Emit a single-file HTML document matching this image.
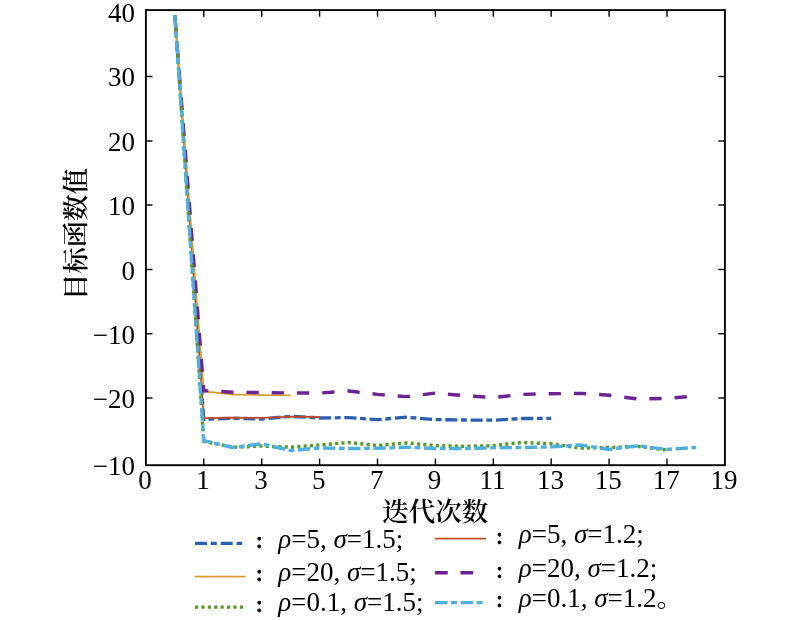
<!DOCTYPE html>
<html><head><meta charset="utf-8"><style>
html,body{margin:0;padding:0;background:#fff;}
body{width:800px;height:620px;overflow:hidden;}
svg{display:block;will-change:transform;}
text{font-family:"Liberation Serif","Noto Serif CJK SC",serif;font-size:27px;fill:#000;}
.co{font-family:"DejaVu Serif",serif;font-size:23.5px;stroke:#000;stroke-width:0.55px;}
.cj{font-family:"Noto Serif CJK SC","Liberation Serif",serif;font-weight:600;}
</style></head><body>
<svg width="800" height="620" viewBox="0 0 800 620">
<rect width="800" height="620" fill="#fff"/>
<g transform="scale(1,1.04)">
<polyline points="174.85,14.423 203.80,403.173 205.40,403.115" stroke-width="3.2" fill="none" stroke="#2a60ae" stroke-linejoin="miter" stroke-dasharray="12.1 3.6 5.9 3.7" stroke-dashoffset="0.000"/>
<polyline points="203.80,403.173 232.75,402.115 261.70,402.885 290.65,400.288 319.60,401.923 348.55,401.538 377.50,403.558 406.45,401.154 435.40,403.462 464.35,403.846 493.30,404.038 522.25,402.404 551.20,402.308" stroke-width="3.2" fill="none" stroke="#2a60ae" stroke-linejoin="miter" stroke-dasharray="12.1 3.6 5.9 3.7" stroke-dashoffset="11.041"/>
<polyline points="174.85,14.423 203.80,402.115 232.75,401.538 261.70,401.731 290.65,400.673 319.60,400.962" stroke-width="1.7" fill="none" stroke="#bd4a2b" stroke-linejoin="miter"/>
<polyline points="174.85,14.423 203.80,376.346 232.75,379.327 261.70,379.904 290.65,380.192" stroke-width="1.7" fill="none" stroke="#d89e36" stroke-linejoin="miter"/>
<polyline points="174.85,14.423 203.80,375.577 205.45,375.664" stroke-width="3.3" fill="none" stroke="#6c2494" stroke-linejoin="miter" stroke-dasharray="12.3 12.95" stroke-dashoffset="21.650"/>
<polyline points="203.80,375.577 232.75,377.115 261.70,377.500 290.65,377.885 319.60,377.981 348.55,375.962 377.50,379.231 406.45,381.346 435.40,377.981 464.35,380.385 493.30,382.212 522.25,379.231 551.20,378.558 580.15,378.269 609.10,380.000 638.05,383.654 667.00,383.077 695.95,380.769" stroke-width="3.3" fill="none" stroke="#6c2494" stroke-linejoin="miter" stroke-dasharray="12.3 12.95" stroke-dashoffset="7.775"/>
<polyline points="174.85,14.423 203.80,424.327 205.42,424.649" stroke-width="3.3" fill="none" stroke="#559b25" stroke-linejoin="miter" stroke-dasharray="3.12 3.2" stroke-dashoffset="0.000"/>
<polyline points="203.80,424.327 232.75,430.096 261.70,428.846 290.65,430.000 319.60,427.885 348.55,425.481 377.50,428.365 406.45,425.865 435.40,428.462 464.35,429.231 493.30,428.462 522.25,425.481 551.20,426.635 580.15,430.865 609.10,430.288 638.05,429.231 667.00,432.692" stroke-width="3.3" fill="none" stroke="#559b25" stroke-linejoin="miter" stroke-dasharray="3.12 3.2" stroke-dashoffset="0.646"/>
<polyline points="174.85,14.423 203.80,423.654 205.41,424.022" stroke-width="3.3" fill="none" stroke="#4fb0e0" stroke-linejoin="miter" stroke-dasharray="12.3 3.6 5.75 3.6" stroke-dashoffset="0.000"/>
<polyline points="203.80,423.654 232.75,430.288 261.70,426.731 290.65,433.269 319.60,430.673 348.55,431.250 377.50,431.058 406.45,430.000 435.40,431.250 464.35,431.250 493.30,430.577 522.25,430.288 551.20,429.712 580.15,427.885 609.10,432.115 638.05,428.654 667.00,432.115 695.95,430.288" stroke-width="3.3" fill="none" stroke="#4fb0e0" stroke-linejoin="miter" stroke-dasharray="12.3 3.6 5.75 3.6" stroke-dashoffset="5.281"/>
</g>
<g stroke="#000" stroke-width="1.4" fill="none">
<line x1="203.80" y1="10.1" x2="203.80" y2="16.70"/>
<line x1="203.80" y1="465.2" x2="203.80" y2="458.60"/>
<line x1="261.70" y1="10.1" x2="261.70" y2="16.70"/>
<line x1="261.70" y1="465.2" x2="261.70" y2="458.60"/>
<line x1="319.60" y1="10.1" x2="319.60" y2="16.70"/>
<line x1="319.60" y1="465.2" x2="319.60" y2="458.60"/>
<line x1="377.50" y1="10.1" x2="377.50" y2="16.70"/>
<line x1="377.50" y1="465.2" x2="377.50" y2="458.60"/>
<line x1="435.40" y1="10.1" x2="435.40" y2="16.70"/>
<line x1="435.40" y1="465.2" x2="435.40" y2="458.60"/>
<line x1="493.30" y1="10.1" x2="493.30" y2="16.70"/>
<line x1="493.30" y1="465.2" x2="493.30" y2="458.60"/>
<line x1="551.20" y1="10.1" x2="551.20" y2="16.70"/>
<line x1="551.20" y1="465.2" x2="551.20" y2="458.60"/>
<line x1="609.10" y1="10.1" x2="609.10" y2="16.70"/>
<line x1="609.10" y1="465.2" x2="609.10" y2="458.60"/>
<line x1="667.00" y1="10.1" x2="667.00" y2="16.70"/>
<line x1="667.00" y1="465.2" x2="667.00" y2="458.60"/>
<line x1="145.9" y1="76.5" x2="152.50" y2="76.5"/>
<line x1="724.9" y1="76.5" x2="718.30" y2="76.5"/>
<line x1="145.9" y1="141.0" x2="152.50" y2="141.0"/>
<line x1="724.9" y1="141.0" x2="718.30" y2="141.0"/>
<line x1="145.9" y1="205.0" x2="152.50" y2="205.0"/>
<line x1="724.9" y1="205.0" x2="718.30" y2="205.0"/>
<line x1="145.9" y1="269.5" x2="152.50" y2="269.5"/>
<line x1="724.9" y1="269.5" x2="718.30" y2="269.5"/>
<line x1="145.9" y1="333.7" x2="152.50" y2="333.7"/>
<line x1="724.9" y1="333.7" x2="718.30" y2="333.7"/>
<line x1="145.9" y1="398.0" x2="152.50" y2="398.0"/>
<line x1="724.9" y1="398.0" x2="718.30" y2="398.0"/>
</g>
<rect x="145.9" y="10.1" width="579.00" height="455.10" fill="none" stroke="#000" stroke-width="1.9"/>
<g>
<text x="145.10" y="489" text-anchor="middle">0</text>
<text x="203.00" y="489" text-anchor="middle">1</text>
<text x="260.90" y="489" text-anchor="middle">3</text>
<text x="318.80" y="489" text-anchor="middle">5</text>
<text x="376.70" y="489" text-anchor="middle">7</text>
<text x="434.60" y="489" text-anchor="middle">9</text>
<text x="492.50" y="489" text-anchor="middle">11</text>
<text x="550.40" y="489" text-anchor="middle">13</text>
<text x="608.30" y="489" text-anchor="middle">15</text>
<text x="666.20" y="489" text-anchor="middle">17</text>
<text x="724.10" y="489" text-anchor="middle">19</text>
<text x="135" y="22.10" text-anchor="end">40</text>
<text x="135" y="86.10" text-anchor="end">30</text>
<text x="135" y="151.00" text-anchor="end">20</text>
<text x="135" y="214.60" text-anchor="end">10</text>
<text x="135" y="279.50" text-anchor="end">0</text>
<text x="135" y="343.90" text-anchor="end">−10</text>
<text x="135" y="407.90" text-anchor="end">−20</text>
<text x="135" y="474.70" text-anchor="end">−10</text>
</g>
<text class="cj" transform="translate(85.2,234.1) rotate(-90)" text-anchor="middle" style="font-size:26.4px">目标函数值</text>
<text class="cj" x="435.3" y="520.7" text-anchor="middle" style="font-size:26.5px">迭代次数</text>
<g>
<line x1="195.0" y1="543.3" x2="242.2" y2="543.3" stroke="#2a60ae" stroke-width="3.2" stroke-dasharray="12 3.8 6 3.9"/>
<text class="co" x="259.2" y="548.3" text-anchor="middle">:</text>
<text x="278.3" y="547.7"><tspan font-style="italic">ρ</tspan>=5, <tspan font-style="italic">σ</tspan>=1.5;</text>
<line x1="194.6" y1="576.7" x2="245.6" y2="576.7" stroke="#d89e36" stroke-width="1.7"/>
<text class="co" x="259.2" y="581.0" text-anchor="middle">:</text>
<text x="278.3" y="581.0"><tspan font-style="italic">ρ</tspan>=20, <tspan font-style="italic">σ</tspan>=1.5;</text>
<line x1="195.0" y1="607.1" x2="243.0" y2="607.1" stroke="#559b25" stroke-width="3.4" stroke-dasharray="3.2 3.2"/>
<text class="co" x="259.2" y="611.9" text-anchor="middle">:</text>
<text x="278.3" y="611.4"><tspan font-style="italic">ρ</tspan>=0.1, <tspan font-style="italic">σ</tspan>=1.5;</text>
<line x1="435.0" y1="538.7" x2="486.0" y2="538.7" stroke="#bd4a2b" stroke-width="1.7"/>
<text class="co" x="499.5" y="543.9" text-anchor="middle">:</text>
<text x="518.7" y="543.2"><tspan font-style="italic">ρ</tspan>=5, <tspan font-style="italic">σ</tspan>=1.2;</text>
<line x1="435.0" y1="572.7" x2="473.2" y2="572.7" stroke="#6c2494" stroke-width="3.4" stroke-dasharray="12.8 12.6"/>
<text class="co" x="499.5" y="577.5" text-anchor="middle">:</text>
<text x="518.7" y="577.1"><tspan font-style="italic">ρ</tspan>=20, <tspan font-style="italic">σ</tspan>=1.2;</text>
<line x1="435.0" y1="602.6" x2="482.6" y2="602.6" stroke="#4fb0e0" stroke-width="3.4" stroke-dasharray="12.6 3.4 6.1 3.5"/>
<text class="co" x="499.5" y="607.2" text-anchor="middle">:</text>
<text x="518.7" y="606.9"><tspan font-style="italic">ρ</tspan>=0.1, <tspan font-style="italic">σ</tspan>=1.2<tspan class="cj">。</tspan></text>
</g>
</svg>
</body></html>
